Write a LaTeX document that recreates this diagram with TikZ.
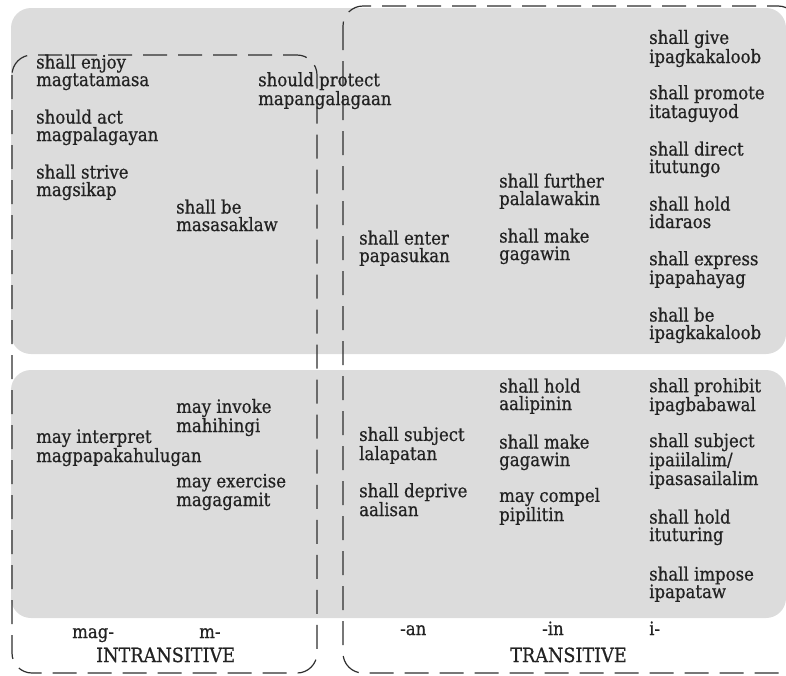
\documentclass[tikz,border=0pt]{standalone}
\usepackage{fontspec}
\setmainfont[FakeBold=0.6]{DejaVu Serif Condensed}
\usepackage{xcolor}
\usepackage{tikz}
\definecolor{panel}{HTML}{DCDCDC}
\definecolor{ink}{HTML}{222222}
\definecolor{edge}{HTML}{2E2E2E}
\newcommand{\verbfont}{\fontsize{18.4}{17.5}\selectfont}
\newcommand{\clsfont}{\fontsize{19.6}{20}\selectfont}
\tikzset{
  row/.style={fill=panel, rounded corners=20pt},
  group/.style={draw=edge, line width=1.2pt, dash pattern=on 24pt off 11pt, rounded corners=20pt},
  verb/.style={text=ink, font=\verbfont, align=left, anchor=base west, inner sep=0pt},
  affix/.style={text=ink, font=\verbfont, anchor=base west, inner sep=0pt},
  cls/.style={text=ink, font=\clsfont, anchor=base west, inner sep=0pt},
}

\begin{document}
\begin{tikzpicture}[x=1pt,y=-1pt]
  \useasboundingbox (0,0) rectangle (786,675);

  % shaded rows
  \fill[row] (11,8) rectangle (786,354);
  \fill[row] (11,370) rectangle (786,618);

  % verb classes
  \draw[group] (12,55) rectangle (317,673);
  \draw[group] (343,6) rectangle (798,673);

  % intransitive, top row (anchored on last line)
  \node[verb] (enjoy) at (36,86) {shall enjoy\\magtatamasa};
  \node[verb] (act) at (36,141) {should act\\magpalagayan};
  \node[verb] (strive) at (36,196) {shall strive\\magsikap};
  \node[verb] (bemasa) at (176,231) {shall be\\masasaklaw};
  \node[verb] (protect) at (258,105) {should protect\\mapangalagaan};

  % transitive, top row
  \node[verb] (enter) at (359,262) {shall enter\\papasukan};
  \node[verb] (further) at (499,205) {shall further\\palalawakin};
  \node[verb] (make) at (499,260) {shall make\\gagawin};
  \node[verb] (give) at (649,63) {shall give\\ipagkakaloob};
  \node[verb] (promote) at (649,118) {shall promote\\itataguyod};
  \node[verb] (direct) at (649,173) {shall direct\\itutungo};
  \node[verb] (holdi) at (649,228) {shall hold\\idaraos};
  \node[verb] (express) at (649,284) {shall express\\ipapahayag};
  \node[verb] (bei) at (649,339) {shall be\\ipagkakaloob};

  % intransitive, bottom row
  \node[verb] (interpret) at (36,462) {may interpret\\magpapakahulugan};
  \node[verb] (invoke) at (176,432) {may invoke\\mahihingi};
  \node[verb] (exercise) at (176,506) {may exercise\\magagamit};

  % transitive, bottom row
  \node[verb] (subjectan) at (359,460) {shall subject\\lalapatan};
  \node[verb] (deprive) at (359,516) {shall deprive\\aalisan};
  \node[verb] (holdin) at (499,410) {shall hold\\aalipinin};
  \node[verb] (makein) at (499,466) {shall make\\gagawin};
  \node[verb] (compel) at (499,521) {may compel\\pipilitin};
  \node[verb] (prohibit) at (649,411) {shall prohibit\\ipagbabawal};
  \node[verb] (subjecti) at (649,485) {shall subject\\ipaiilalim/\\ipasasailalim};
  \node[verb] (holdturing) at (649,541) {shall hold\\ituturing};
  \node[verb] (impose) at (649,598) {shall impose\\ipapataw};

  % affixes and class names
  \node[affix] (mag) at (72,638) {mag-};
  \node[affix] (m) at (199,638) {m-};
  \node[cls] (intr) at (96,662) {INTRANSITIVE};
  \node[affix] (an) at (400,635) {-an};
  \node[affix] (in) at (542,635) {-in};
  \node[affix] (i) at (649,635) {i-};
  \node[cls] (tr) at (510,662) {TRANSITIVE};
\end{tikzpicture}
\end{document}
